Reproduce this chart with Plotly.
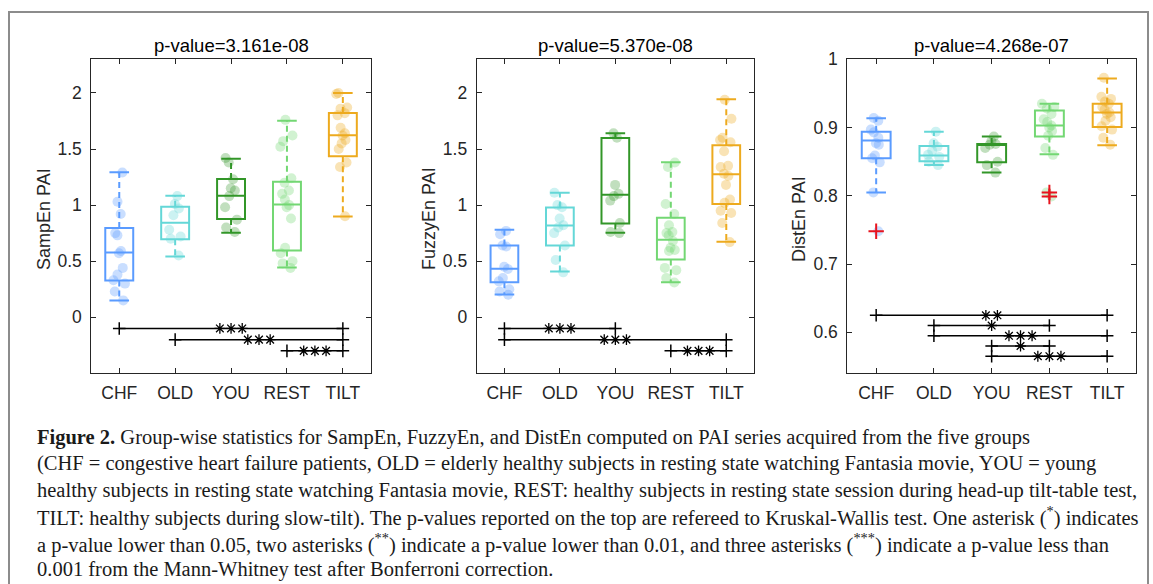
import plotly.graph_objects as go

W, H = 1153, 584

groups = ["CHF", "OLD", "YOU", "REST", "TILT"]
colors = ["#5A9BFF", "#64D7D7", "#329628", "#73D773", "#EDAA1E"]
point_colors = ["rgba(90,155,255,0.33)", "rgba(100,215,215,0.33)", "rgba(50,150,40,0.30)",
                "rgba(115,215,115,0.33)", "rgba(237,170,30,0.33)"]

# ---------------- SampEn ----------------
samp_points = [
    [1.29, 1.03, 0.92, 0.75, 0.73, 0.59, 0.57, 0.44, 0.38, 0.33, 0.30, 0.23, 0.15],
    [1.08, 1.01, 0.97, 0.91, 0.78, 0.72, 0.70, 0.55],
    [1.42, 1.38, 1.23, 1.15, 1.13, 1.08, 0.98, 0.87, 0.80, 0.76],
    [1.76, 1.62, 1.57, 1.52, 1.24, 1.20, 1.13, 1.10, 1.05, 1.00, 0.98, 0.88, 0.62, 0.57, 0.50, 0.48, 0.44],
    [2.00, 1.99, 1.87, 1.86, 1.82, 1.80, 1.69, 1.64, 1.62, 1.58, 1.55, 1.50, 1.38, 1.34, 0.90],
]
samp_q1 = [0.327, 0.696, 0.875, 0.595, 1.435]
samp_med = [0.577, 0.842, 1.083, 1.006, 1.622]
samp_q3 = [0.795, 0.985, 1.232, 1.208, 1.821]
samp_lo = [0.149, 0.542, 0.753, 0.443, 0.899]
samp_hi = [1.292, 1.083, 1.414, 1.753, 2.000]
samp_sig = [("CHF", "TILT", -0.1, 3), ("OLD", "TILT", -0.2, 3), ("REST", "TILT", -0.3, 3)]

# ---------------- FuzzyEn ----------------
fuzzy_points = [
    [0.77, 0.74, 0.64, 0.63, 0.45, 0.43, 0.35, 0.32, 0.25, 0.23, 0.20],
    [1.11, 1.00, 0.98, 0.88, 0.82, 0.80, 0.75, 0.64, 0.51, 0.40],
    [1.64, 1.60, 1.18, 1.10, 1.08, 1.04, 0.84, 0.76, 0.75],
    [1.38, 1.34, 1.01, 0.92, 0.82, 0.76, 0.75, 0.73, 0.68, 0.62, 0.60, 0.59, 0.44, 0.42, 0.35, 0.31],
    [1.94, 1.77, 1.60, 1.58, 1.56, 1.48, 1.35, 1.34, 1.28, 1.26, 1.18, 1.05, 1.02, 0.95, 0.93, 0.84, 0.67],
]
fuzzy_q1 = [0.3125, 0.640, 0.836, 0.515, 1.009]
fuzzy_med = [0.4315, 0.818, 1.092, 0.690, 1.274]
fuzzy_q3 = [0.640, 0.979, 1.598, 0.887, 1.533]
fuzzy_lo = [0.202, 0.408, 0.753, 0.3125, 0.673]
fuzzy_hi = [0.780, 1.110, 1.640, 1.381, 1.943]
fuzzy_sig = [("CHF", "YOU", -0.1, 3), ("CHF", "TILT", -0.2, 3), ("REST", "TILT", -0.3, 3)]

# ---------------- DistEn ----------------
dist_points = [
    [0.914, 0.910, 0.897, 0.893, 0.885, 0.877, 0.875, 0.859, 0.855, 0.849, 0.805, 0.748],
    [0.894, 0.877, 0.872, 0.866, 0.860, 0.857, 0.850, 0.845],
    [0.887, 0.880, 0.876, 0.875, 0.870, 0.850, 0.845, 0.834],
    [0.935, 0.930, 0.928, 0.920, 0.912, 0.908, 0.903, 0.900, 0.895, 0.888, 0.870, 0.860, 0.805, 0.799],
    [0.973, 0.945, 0.942, 0.938, 0.935, 0.930, 0.926, 0.922, 0.920, 0.915, 0.910, 0.902, 0.897, 0.885, 0.875],
]
dist_q1 = [0.855, 0.8506, 0.849, 0.887, 0.901]
dist_med = [0.881, 0.859, 0.875, 0.903, 0.922]
dist_q3 = [0.894, 0.873, 0.876, 0.925, 0.935]
dist_lo = [0.805, 0.845, 0.834, 0.861, 0.874]
dist_hi = [0.9135, 0.894, 0.887, 0.935, 0.972]
dist_outliers = [[0.748], [], [], [0.805, 0.799], []]
dist_sig = [("CHF", "TILT", 0.625, 2), ("OLD", "REST", 0.61, 1), ("OLD", "TILT", 0.595, 3),
            ("YOU", "REST", 0.58, 1), ("YOU", "TILT", 0.565, 3)]

titles = ["p-value=3.161e-08", "p-value=5.370e-08", "p-value=4.268e-07"]
ylabels = ["SampEn PAI", "FuzzyEn PAI", "DistEn PAI"]
yranges = [[-0.5, 2.3], [-0.5, 2.3], [0.54, 1.0]]
ytickvals = [[0, 0.5, 1, 1.5, 2], [0, 0.5, 1, 1.5, 2], [0.6, 0.7, 0.8, 0.9, 1.0]]

panels = [
    (samp_points, samp_q1, samp_med, samp_q3, samp_lo, samp_hi, [[]] * 5, samp_sig),
    (fuzzy_points, fuzzy_q1, fuzzy_med, fuzzy_q3, fuzzy_lo, fuzzy_hi, [[]] * 5, fuzzy_sig),
    (dist_points, dist_q1, dist_med, dist_q3, dist_lo, dist_hi, dist_outliers, dist_sig),
]

# axes placement (pixels)
x_px = [(91.3, 370.8), (476.7, 754.0), (847.3, 1136.0)]
y_px = (59.3, 373.3)
ylabel_x = [44, 429, 799]

TXT = "#262626"
FONT = "Liberation Sans"

fig = go.Figure()
layout = dict(
    width=W, height=H, margin=dict(l=0, r=0, t=0, b=0, pad=0, autoexpand=False),
    paper_bgcolor="white", plot_bgcolor="white", showlegend=False,
    boxmode="overlay", font=dict(family=FONT, color=TXT, size=17),
)

annotations = []
shapes = []
idx = list(range(1, 6))

for p, (pts, q1, med, q3, lo, hi, outl, sig) in enumerate(panels):
    sfx = "" if p == 0 else str(p + 1)
    xa, ya = "x" + sfx, "y" + sfx
    x0, x1 = x_px[p]
    layout["xaxis" + sfx] = dict(
        domain=[x0 / W, x1 / W], anchor=ya, range=[0.5, 5.5],
        tickvals=idx, ticktext=groups, ticks="inside", ticklen=5, tickcolor=TXT,
        showline=True, linecolor=TXT, linewidth=1, mirror="allticks",
        showgrid=False, zeroline=False, tickfont=dict(size=17.5, color=TXT),
        ticklabelstandoff=4, automargin=False,
    )
    layout["yaxis" + sfx] = dict(
        domain=[1 - y_px[1] / H, 1 - y_px[0] / H], anchor=xa, range=yranges[p],
        tickvals=ytickvals[p], ticks="inside", ticklen=5, tickcolor=TXT,
        showline=True, linecolor=TXT, linewidth=1, mirror="allticks",
        showgrid=False, zeroline=False, tickfont=dict(size=17.5, color=TXT),
        ticklabelstandoff=5, automargin=False,
    )

    for g in range(5):
        i = idx[g]
        # jittered data points
        fig.add_trace(go.Box(
            x=[i] * len(pts[g]), y=pts[g], xaxis=xa, yaxis=ya,
            boxpoints="all", jitter=0.55, pointpos=0, width=0.5,
            line=dict(width=0, color="rgba(0,0,0,0)"), fillcolor="rgba(0,0,0,0)",
            marker=dict(color=point_colors[g], size=10, line=dict(width=0)),
            hoverinfo="y",
        ))
        # box (q1, median, q3)
        fig.add_trace(go.Box(
            x=[i], q1=[q1[g]], median=[med[g]], q3=[q3[g]],
            lowerfence=[q1[g]], upperfence=[q3[g]], xaxis=xa, yaxis=ya,
            width=0.5, whiskerwidth=0, boxpoints=False,
            line=dict(color=colors[g], width=2), fillcolor="rgba(0,0,0,0)",
        ))
        # dashed whiskers
        fig.add_trace(go.Scatter(
            x=[i, i, None, i, i], y=[q3[g], hi[g], None, q1[g], lo[g]],
            xaxis=xa, yaxis=ya, mode="lines",
            line=dict(color=colors[g], width=2, dash="6px,4px"), hoverinfo="skip",
        ))
        # whisker caps
        fig.add_trace(go.Scatter(
            x=[i, i], y=[hi[g], lo[g]], xaxis=xa, yaxis=ya, mode="markers",
            marker=dict(symbol="line-ew-open", size=14, color=colors[g], line=dict(width=2)),
            hoverinfo="skip",
        ))
        # outliers
        if outl[g]:
            fig.add_trace(go.Scatter(
                x=[i] * len(outl[g]), y=outl[g], xaxis=xa, yaxis=ya, mode="markers",
                marker=dict(symbol="cross-thin-open", size=11, color="#E8141E", line=dict(width=2)),
            ))

    # significance bars
    for (ga, gb, h, nstar) in sig:
        a, b = idx[groups.index(ga)], idx[groups.index(gb)]
        fig.add_trace(go.Scatter(
            x=[a, b], y=[h, h], xaxis=xa, yaxis=ya, mode="lines+markers",
            line=dict(color="black", width=1.5),
            marker=dict(symbol="cross-thin-open", size=9, color="black", line=dict(width=1.5)),
            hoverinfo="skip",
        ))
        mid = (a + b) / 2
        sx = [mid + 0.2 * (k - (nstar - 1) / 2) for k in range(nstar)]
        fig.add_trace(go.Scatter(
            x=sx, y=[h] * nstar, xaxis=xa, yaxis=ya, mode="markers",
            marker=dict(symbol="asterisk-open", size=9, color="black", line=dict(width=1.3)),
            hoverinfo="skip",
        ))

    # title
    annotations.append(dict(
        text=titles[p], xref="paper", yref="paper", x=(x0 + x1) / 2 / W, y=1 - 45 / H,
        xanchor="center", yanchor="middle", showarrow=False,
        font=dict(family=FONT, size=18.5, color="black"),
    ))
    # y label
    annotations.append(dict(
        text=ylabels[p], xref="paper", yref="paper", x=ylabel_x[p] / W, y=1 - 219 / H,
        xanchor="center", yanchor="middle", textangle=-90, showarrow=False,
        font=dict(family=FONT, size=18, color=TXT),
    ))

# caption
caption_lines = [
    "<b>Figure 2.</b> Group-wise statistics for SampEn, FuzzyEn, and DistEn computed on PAI series acquired from the five groups",
    "(CHF = congestive heart failure patients, OLD = elderly healthy subjects in resting state watching Fantasia movie, YOU = young",
    "healthy subjects in resting state watching Fantasia movie, REST: healthy subjects in resting state session during head-up tilt-table test,",
    "TILT: healthy subjects during slow-tilt). The p-values reported on the top are refereed to Kruskal-Wallis test. One asterisk (<sup>*</sup>) indicates",
    "a p-value lower than 0.05, two asterisks (<sup>**</sup>) indicate a p-value lower than 0.01, and three asterisks (<sup>***</sup>) indicate a p-value less than",
    "0.001 from the Mann-Whitney test after Bonferroni correction.",
]
cap_y = [437, 463.5, 490, 516.5, 543, 569.5]
for line, yc in zip(caption_lines, cap_y):
    annotations.append(dict(
        text=line, xref="paper", yref="paper", x=35 / W, y=1 - yc / H,
        xanchor="left", yanchor="middle", showarrow=False,
        font=dict(family="Liberation Serif", size=20.5, color="#1a1a1a"),
    ))

# outer frame
shapes.append(dict(
    type="rect", xref="paper", yref="paper", x0=9 / W, x1=1148 / W, y0=-0.05, y1=1 - 12 / H,
    line=dict(color="#8c8c8c", width=2), fillcolor="rgba(0,0,0,0)", layer="below",
))

layout["annotations"] = annotations
layout["shapes"] = shapes
fig.update_layout(**layout)
fig.write_html(
    "out.html",
    config={"displayModeBar": False},
    post_script="document.body.style.margin='0px';document.body.style.padding='0px';",
)
